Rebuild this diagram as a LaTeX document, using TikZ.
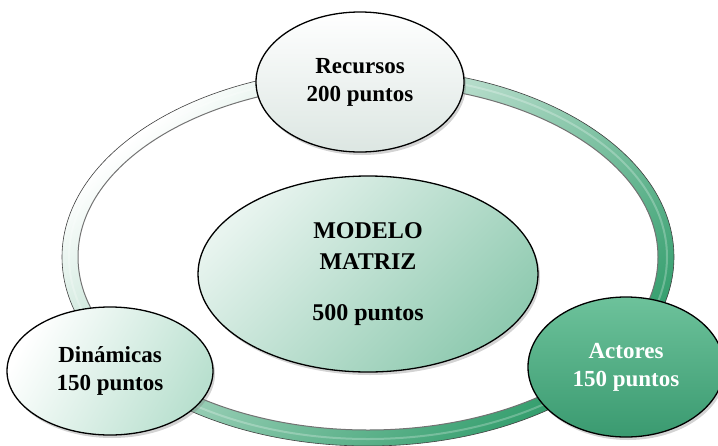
\documentclass[tikz,border=0pt]{standalone}
\usepackage{fontspec}
\setmainfont{Liberation Serif}
\usepackage{tikz}
\usetikzlibrary{shapes.geometric,shadows}

\definecolor{ringgreen}{HTML}{2F9C6A}
\definecolor{palegray}{HTML}{DCE6E2}
\definecolor{palemint}{HTML}{E8F4EF}
\definecolor{mint}{HTML}{8FCAB0}
\definecolor{lightmint}{HTML}{B9E0CF}
\definecolor{actlight}{HTML}{6DC29B}
\definecolor{actgreen}{HTML}{3A9A70}

\begin{document}
\begin{tikzpicture}[x=1pt,y=-1pt,
	bubble/.style={ellipse, draw=black, line width=1.3pt, inner sep=0pt, align=center,
		font=\fontsize{23}{28}\selectfont\bfseries,
		drop shadow={shadow xshift=2pt, shadow yshift=-3pt, opacity=0.35}}]
	\useasboundingbox (0,0) rectangle (718,445);
	
	% Draw the ring
	\shade[even odd rule, left color=white, middle color=ringgreen!80, right color=ringgreen, shading angle=40]
		(368,257) ellipse [x radius=306, y radius=189]
		(368,257) ellipse [x radius=290, y radius=173];
	\draw[white, line width=2pt, opacity=0.25] (368,257) ellipse [x radius=299, y radius=182];
	\draw[black!75, line width=0.6pt] (368,257) ellipse [x radius=306, y radius=189];
	\draw[black!55, line width=1pt] (368,257) ellipse [x radius=290, y radius=173];
	
	% Draw the bubbles
	\node[bubble, minimum width=208, minimum height=140, top color=white, bottom color=palegray]
		(recursos) at (360,82) {Recursos\\200 puntos};
	\node[bubble, minimum width=340, minimum height=196, font=\fontsize{24}{31}\selectfont\bfseries,
		left color=palemint, right color=mint, shading angle=45]
		(modelo) at (368,274) {MODELO\\MATRIZ\\[20pt]500 puntos};
	\node[bubble, minimum width=206, minimum height=128, left color=white, right color=lightmint, shading angle=60]
		(dinamicas) at (110,371) {Din\'amicas\\150 puntos};
	\node[bubble, minimum width=196, minimum height=140, top color=actlight, bottom color=actgreen, text=white]
		(actores) at (626,367) {Actores\\150 puntos};
\end{tikzpicture}
\end{document}
